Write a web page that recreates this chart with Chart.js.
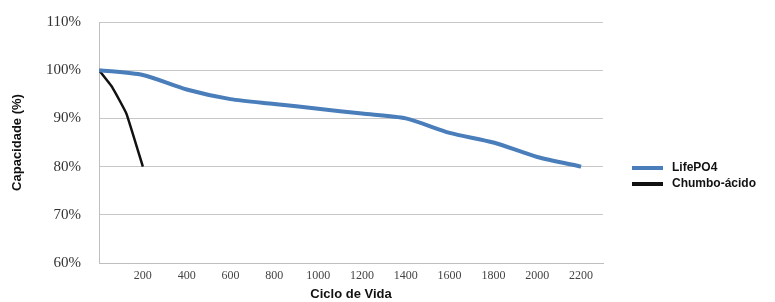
<!DOCTYPE html>
<html lang="pt">
<head>
  <meta charset="UTF-8">
  <title>Capacidade x Ciclo de Vida</title>
  <script src="https://cdn.jsdelivr.net/npm/chart.js"></script>
  <style>
    body { margin: 0; background: #fff; }
    #wrap { width: 775px; height: 302px; }
  </style>
</head>
<body>
  <div id="wrap"><canvas id="chart" width="775" height="302"></canvas></div>

  <script>
    // ciclos e capacidade (%)
    const lifeCycles = [0, 200, 400, 600, 800, 1000, 1200, 1400, 1600, 1800, 2000, 2200];
    const lifeCap    = [100, 99, 96, 94, 93, 92, 91, 90, 87, 85, 82, 80];
    const leadCycles = [0, 60, 125, 200];
    const leadCap    = [100, 96.5, 91, 80];
    const seriesNames = ['LifePO4', 'Chumbo-ácido'];
    const xTicks = [200, 400, 600, 800, 1000, 1200, 1400, 1600, 1800, 2000, 2200];
    const yTicks = [60, 70, 80, 90, 100, 110];

    const toPts = (xs, ys) => xs.map((x, i) => ({ x: x, y: ys[i] }));

    // legenda desenhada à direita, como no original
    const sideLegend = {
      id: 'sideLegend',
      afterDraw(chart) {
        const ctx = chart.ctx;
        ctx.save();
        ctx.font = 'bold 12px "Liberation Sans", Arial, sans-serif';
        ctx.textBaseline = 'middle';
        chart.data.datasets.forEach((ds, i) => {
          const y = 168 + i * 16;
          ctx.strokeStyle = ds.borderColor;
          ctx.lineWidth = 4;
          ctx.beginPath();
          ctx.moveTo(632, y);
          ctx.lineTo(663, y);
          ctx.stroke();
          ctx.fillStyle = '#111';
          ctx.fillText(ds.label, 672, y);
        });
        ctx.restore();
      }
    };

    new Chart(document.getElementById('chart'), {
      type: 'line',
      data: {
        datasets: [
          {
            label: seriesNames[0],
            data: toPts(lifeCycles, lifeCap),
            borderColor: '#4a7ebb',
            borderWidth: 4,
            pointRadius: 0,
            tension: 0.25,
            fill: false
          },
          {
            label: seriesNames[1],
            data: toPts(leadCycles, leadCap),
            borderColor: '#111111',
            borderWidth: 2.5,
            pointRadius: 0,
            tension: 0.1,
            fill: false
          }
        ]
      },
      options: {
        responsive: false,
        animation: false,
        layout: { padding: { top: 22, right: 172, left: 10, bottom: 0 } },
        plugins: {
          legend: { display: false },
          tooltip: { enabled: false }
        },
        scales: {
          x: {
            type: 'linear',
            min: 0,
            max: 2300,
            afterBuildTicks: s => { s.ticks = xTicks.map(v => ({ value: v })); },
            grid: { display: false, drawTicks: false },
            border: { display: true, color: '#bfbfbf', width: 1 },
            ticks: {
              padding: 6,
              autoSkip: false,
              maxRotation: 0,
              color: '#444',
              font: { family: '"Liberation Serif", "DejaVu Serif", serif', size: 12 },
              callback: v => String(v)
            },
            title: {
              display: true,
              text: 'Ciclo de Vida',
              color: '#111',
              padding: { top: 3, bottom: 0 },
              font: { family: '"Liberation Sans", Arial, sans-serif', size: 13, weight: 'bold' }
            },
            afterFit: s => { s.height = 39; }
          },
          y: {
            min: 60,
            max: 110,
            afterBuildTicks: s => { s.ticks = yTicks.map(v => ({ value: v })); },
            grid: { color: '#c8c8c8', lineWidth: 1, drawTicks: false },
            border: { display: true, color: '#bfbfbf', width: 1 },
            ticks: {
              padding: 18,
              color: '#333',
              font: { family: '"Liberation Serif", "DejaVu Serif", serif', size: 15 },
              callback: v => v + '%'
            },
            title: {
              display: true,
              text: 'Capacidade (%)',
              color: '#111',
              padding: { top: 0, bottom: 0 },
              font: { family: '"Liberation Sans", Arial, sans-serif', size: 13, weight: 'bold' }
            },
            afterFit: s => { s.width = 89; s.paddingTop = 0; s.paddingBottom = 0; }
          }
        }
      },
      plugins: [sideLegend]
    });
  </script>
</body>
</html>
